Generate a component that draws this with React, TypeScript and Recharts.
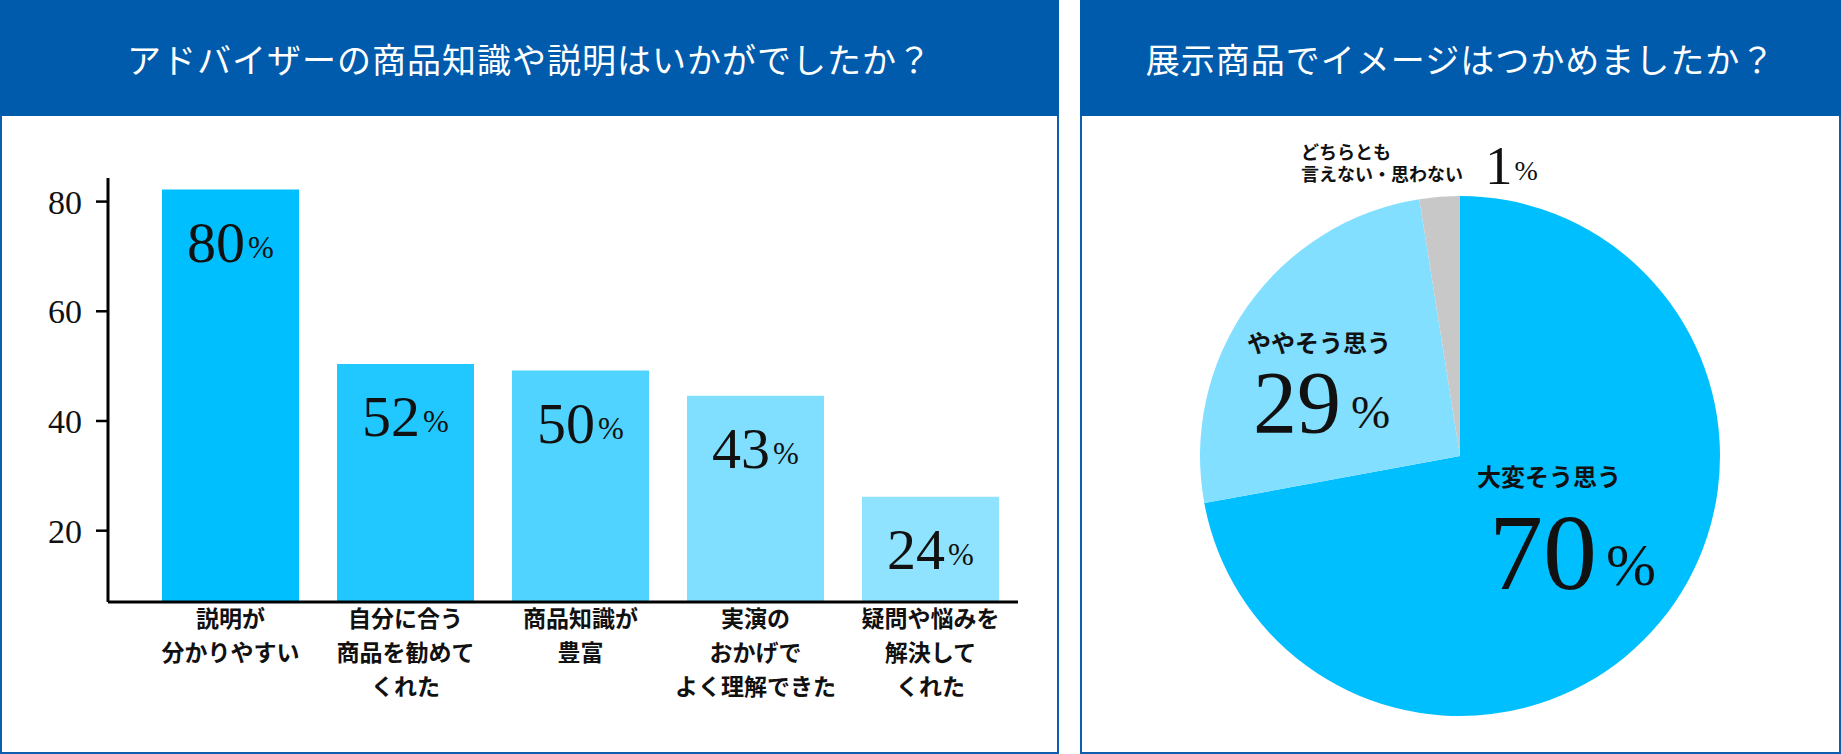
import { BarChart, Bar, XAxis, YAxis, Cell, LabelList, PieChart, Pie } from "recharts";

// left chart: bars
const CATEGORIES = [
  "説明が\n分かりやすい",
  "自分に合う\n商品を勧めて\nくれた",
  "商品知識が\n豊富",
  "実演の\nおかげで\nよく理解できた",
  "疑問や悩みを\n解決して\nくれた",
];
const BAR_VALUES = [82.2, 50.4, 49.2, 44.6, 26.2]; // bar heights as drawn
const BAR_LABELS = ["80", "52", "50", "43", "24"]; // printed percentages
const BAR_COLORS = ["#00bfff", "#20c8ff", "#50d3ff", "#80dfff", "#90e3ff"];
const Y_TICKS = [20, 40, 60, 80];

// right chart: pie
const PIE_NAMES = ["大変そう思う", "ややそう思う", "どちらとも\n言えない・思わない"];
const PIE_VALUES = [72.1, 25.4, 2.5]; // slice shares as drawn
const PIE_LABELS = ["70", "29", "1"];
const PIE_COLORS = ["#00bfff", "#82dfff", "#c8c8c8"];

const SERIF = "'Liberation Serif', 'DejaVu Serif', serif";
const JP = "'Noto Sans CJK JP', 'Noto Sans', sans-serif";
const HEADER = "#005bac";
const BORDER = "#0d5fae";

const barData = CATEGORIES.map((name, i) => ({ name, value: BAR_VALUES[i] }));
const pieData = PIE_NAMES.map((name, i) => ({ name, value: PIE_VALUES[i] }));

function CategoryTick({ x, y, payload }: any) {
  const lines = String(payload.value).split("\n");
  return (
    <text x={x} y={y} textAnchor="middle" fontFamily={JP} fontWeight={700} fontSize={23} fill="#111">
      {lines.map((l, i) => (
        <tspan key={i} x={x} dy={i === 0 ? 25 : 34}>
          {l}
        </tspan>
      ))}
    </text>
  );
}

function BarValueLabel(props: any) {
  const { x, y, width, index } = props;
  return (
    <text x={x + width / 2} y={y + 72} textAnchor="middle" fontFamily={SERIF} fill="#111">
      <tspan fontSize={58}>{BAR_LABELS[index]}</tspan>
      <tspan fontSize={31} dx={3} dy={-4}>%</tspan>
    </text>
  );
}

// label offsets relative to pie centre
const PIE_LABEL_POS = [
  { nx: 17, ny: 30, vx: 29, vy: 133, nameSize: 24, big: 108, pct: 60, gap: 9 },
  { nx: -213, ny: -104, vx: -207, vy: -24, nameSize: 24, big: 88, pct: 47, gap: 10 },
  { nx: -159, ny: -297, vx: 25, vy: -272, nameSize: 18, big: 55, pct: 28, gap: 2 },
];

function PieLabel(props: any) {
  const { index } = props;
  const cx = props.cx ?? 380;
  const cy = props.cy ?? 456;
  const p = PIE_LABEL_POS[index];
  const lines = PIE_NAMES[index].split("\n");
  return (
    <g>
      <text x={cx + p.nx} y={cy + p.ny} fontFamily={JP} fontWeight={700} fontSize={p.nameSize} fill="#111">
        {lines.map((l, i) => (
          <tspan key={i} x={cx + p.nx} dy={i === 0 ? 0 : 22}>
            {l}
          </tspan>
        ))}
      </text>
      <text x={cx + p.vx} y={cy + p.vy} fontFamily={SERIF} fill="#111">
        <tspan fontSize={p.big}>{PIE_LABELS[index]}</tspan>
        <tspan fontSize={p.pct} dx={p.gap} dy={-4}>%</tspan>
      </text>
    </g>
  );
}

function Panel({ left, width, title }: { left: number; width: number; title: string }) {
  return (
    <>
      <div
        style={{
          position: "absolute",
          left,
          top: 0,
          width,
          height: 116,
          background: HEADER,
          color: "#fff",
          display: "flex",
          alignItems: "center",
          justifyContent: "center",
          fontFamily: SERIF + ", 'Noto Sans CJK JP'",
          fontSize: 34,
          letterSpacing: 1,
        }}
      >
        {title}
      </div>
      <div
        style={{
          position: "absolute",
          left,
          top: 116,
          width,
          height: 638,
          boxSizing: "border-box",
          border: `2px solid ${BORDER}`,
          borderTop: "none",
          background: "#fff",
        }}
      />
    </>
  );
}

export default function App() {
  return (
    <div style={{ position: "relative", width: 1841, height: 754, background: "#fff", overflow: "hidden" }}>
      <style>{"body{margin:0}"}</style>
      <Panel left={0} width={1059} title="アドバイザーの商品知識や説明はいかがでしたか？" />
      <Panel left={1080} width={761} title="展示商品でイメージはつかめましたか？" />

      <div style={{ position: "absolute", left: 0, top: 0 }}>
        <BarChart width={1059} height={754} data={barData} margin={{ top: 178, right: 41, bottom: 2, left: 0 }}>
          <XAxis
            dataKey="name"
            height={150}
            padding={{ left: 35, right: 0 }}
            axisLine={{ stroke: "#000", strokeWidth: 3 }}
            tickLine={false}
            tickSize={0}
            tickMargin={0}
            interval={0}
            tick={<CategoryTick />}
          />
          <YAxis
            width={108}
            domain={[7, 84.3]}
            ticks={Y_TICKS}
            axisLine={{ stroke: "#000", strokeWidth: 3 }}
            tickLine={{ stroke: "#000", strokeWidth: 2.5 }}
            tickSize={12}
            tickMargin={14}
            tick={{ fontFamily: SERIF, fontSize: 34, fill: "#111" }}
          />
          <Bar dataKey="value" barSize={137} isAnimationActive={false}>
            {barData.map((_, i) => (
              <Cell key={`bar-${i}`} fill={BAR_COLORS[i]} />
            ))}
            <LabelList dataKey="value" content={<BarValueLabel />} />
          </Bar>
        </BarChart>
      </div>

      <div style={{ position: "absolute", left: 1080, top: 0 }}>
        <PieChart width={761} height={754} margin={{ top: 0, right: 0, bottom: 0, left: 0 }}>
          <Pie
            data={pieData}
            dataKey="value"
            cx={380}
            cy={456}
            outerRadius={260}
            startAngle={90}
            endAngle={-270}
            stroke="none"
            labelLine={false}
            label={PieLabel}
            isAnimationActive={false}
          >
            {pieData.map((_, i) => (
              <Cell key={`slice-${i}`} fill={PIE_COLORS[i]} />
            ))}
          </Pie>
        </PieChart>
      </div>
    </div>
  );
}
